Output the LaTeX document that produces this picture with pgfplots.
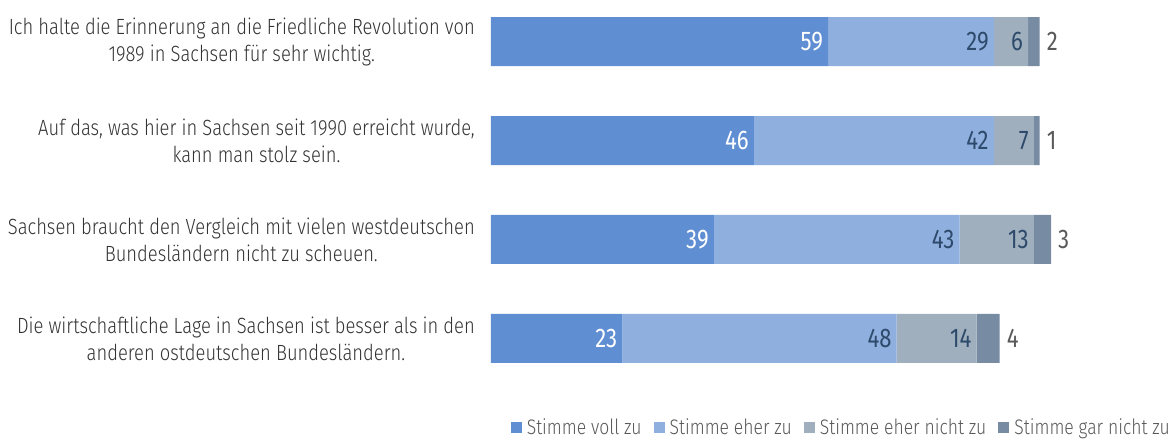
\documentclass[border=0pt]{standalone}
\usepackage{fontspec}
\setmainfont{Fira Sans Light}[FakeStretch=0.835]
\newfontfamily\valfont{Fira Sans}[FakeStretch=0.82]
\usepackage{pgfplots}
\pgfplotsset{compat=1.18}
\definecolor{c1}{HTML}{5F8ED3}
\definecolor{c2}{HTML}{8FAFDF}
\definecolor{c3}{HTML}{9FAFBE}
\definecolor{c4}{HTML}{778BA3}
\definecolor{lbl}{HTML}{2E4A6B}
\definecolor{txt}{HTML}{333333}
\definecolor{outc}{HTML}{595959}
\begin{document}
\begin{tikzpicture}
\begin{axis}[
  xbar stacked, bar width=49pt,
  scale only axis, width=680pt, height=380pt,
  xmin=0, xmax=119, ymin=-0.42, ymax=3.42, y dir=reverse,
  ytick={0,1,2,3}, xtick=\empty,
  yticklabels={{Ich halte die Erinnerung an die Friedliche Revolution von\\1989 in Sachsen für sehr wichtig.},
               {Auf das, was hier in Sachsen seit 1990 erreicht wurde,\\kann man stolz sein.},
               {Sachsen braucht den Vergleich mit vielen westdeutschen\\Bundesländern nicht zu scheuen.},
               {Die wirtschaftliche Lage in Sachsen ist besser als in den\\anderen ostdeutschen Bundesländern.}},
  yticklabel style={align=center, font=\fontsize{22}{27}\selectfont, text=txt, inner sep=0pt, xshift=-16pt},
  axis line style={draw=none}, major tick length=0pt,
  clip=false,
  /pgf/number format/assume math mode=true,
  nodes near coords, point meta=rawx,
  visualization depends on={rawx \as \rawx},
  legend columns=4,
  legend style={draw=none, at={(1,0)}, anchor=north east, yshift=-34pt, xshift=4pt,
    font=\fontsize{21}{24}\selectfont, text=outc,
    /tikz/every odd column/.append style={column sep=3pt},
    /tikz/every even column/.append style={column sep=10pt}},
  legend image code/.code={\fill[#1] (0pt,-6.5pt) rectangle (11pt,4.5pt);},
]
\addplot[fill=c1, draw=none, nodes near coords style={anchor=east, text=white, font=\valfont\fontsize{27}{27}\selectfont, inner sep=5pt, xshift=\rawx*2.857pt}]
  coordinates {(59,0) (46,1) (39,2) (23,3)};
\addplot[fill=c2, draw=none, nodes near coords style={anchor=east, text=lbl, font=\valfont\fontsize{27}{27}\selectfont, inner sep=5pt, xshift=\rawx*2.857pt}]
  coordinates {(29,0) (42,1) (43,2) (48,3)};
\addplot[fill=c3, draw=none, nodes near coords style={anchor=east, text=lbl, font=\valfont\fontsize{27}{27}\selectfont, inner sep=5pt, xshift=\rawx*2.857pt}]
  coordinates {(6,0) (7,1) (13,2) (14,3)};
\addplot[fill=c4, draw=none, nodes near coords style={anchor=west, text=outc, font=\valfont\fontsize{27}{27}\selectfont, inner sep=7pt, xshift=\rawx*2.857pt}]
  coordinates {(2,0) (1,1) (3,2) (4,3)};
\legend{Stimme voll zu, Stimme eher zu, Stimme eher nicht zu, Stimme gar nicht zu}
\end{axis}
\pgfresetboundingbox
\path[use as bounding box] ([xshift=-491pt,yshift=-59pt]current axis.south west) rectangle (current axis.north east);
\end{tikzpicture}
\end{document}
